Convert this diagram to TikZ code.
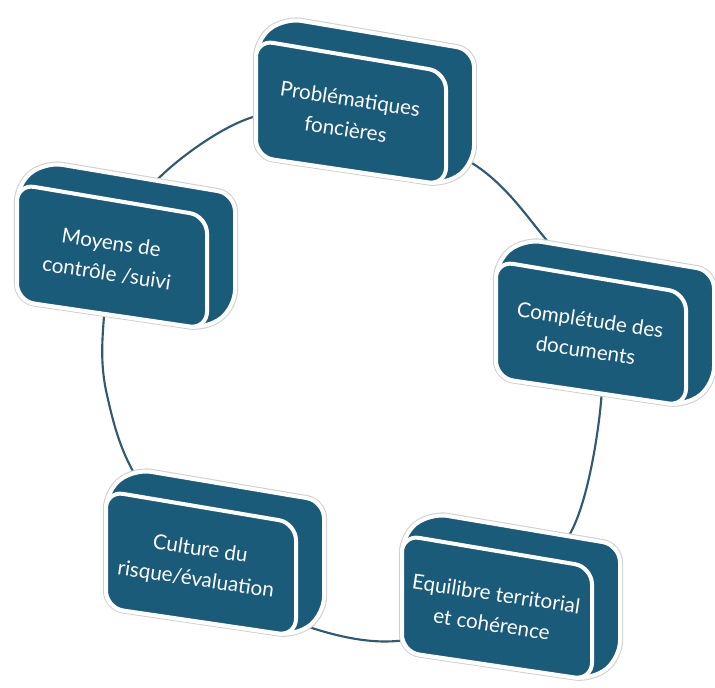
\documentclass[tikz,border=0pt]{standalone}
\usepackage{fontspec}
\setmainfont{Lato}
\usepackage{xcolor}
\usepackage{tikz}
\definecolor{petrole}{HTML}{1B5B7A}
\definecolor{anneau}{HTML}{2F5A72}

\begin{document}
\begin{tikzpicture}[x=0.75pt,y=-0.75pt,
  dos/.style={fill=petrole,draw=white,line width=3pt,rounded corners=13pt,
    preaction={draw=black!18,line width=4.6pt}},
  face/.style={fill=petrole,draw=white,line width=3pt,rounded corners=13pt},
  etiquette/.style={text=white,align=center,rotate=-8.5,
    font=\fontsize{15.5}{23}\selectfont}]
\useasboundingbox (0,0) rectangle (715,688);
\coordinate (r1) at (250,118);
\coordinate (r2) at (355,110);
\coordinate (r3) at (475,165);
\coordinate (r4) at (540,232);
\coordinate (r5) at (592,310);
\coordinate (r6) at (601,402);
\coordinate (r7) at (572,530);
\coordinate (r8) at (495,612);
\coordinate (r9) at (397,641);
\coordinate (r10) at (312,628);
\coordinate (r11) at (225,585);
\coordinate (r12) at (137,478);
\coordinate (r13) at (107,395);
\coordinate (r14) at (103,330);
\coordinate (r15) at (117,245);
\coordinate (r16) at (162,175);
\draw[anneau,line width=1.6pt] plot[smooth cycle,tension=0.55] coordinates
  {(r1) (r2) (r3) (r4) (r5) (r6) (r7) (r8) (r9) (r10) (r11) (r12) (r13) (r14) (r15) (r16)};
\foreach \nom/\cx/\cy/\texte in {
  problematiques/351/112/{Problématiques\\foncières},
  completude/591/333/{Complétude des\\documents},
  equilibre/497/607/{Equilibre territorial\\et cohérence},
  culture/201/563/{Culture du\\risque/évaluation},
  moyens/112/256/{Moyens de\\contrôle /suivi}}
{
  \begin{scope}[shift={(\cx,\cy)}]
    \draw[dos] (-95,-72) -- (-67,-94) -- (123,-62) -- (123,51) -- (95,73) -- (-95,45) -- cycle;
    \draw[face] (-95,-72) -- (95,-40) -- (95,73) -- (-95,45) -- cycle;
    \node[etiquette] (\nom) at (-3,2) {\texte};
  \end{scope}
}
\end{tikzpicture}
\end{document}
